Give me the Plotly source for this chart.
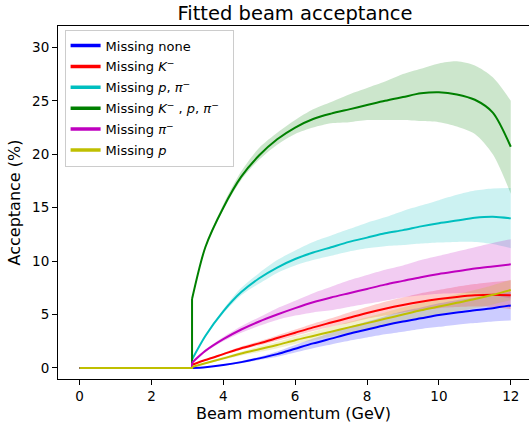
import plotly.graph_objects as go

# ---- data ----
momentum = [3.13, 3.5, 4.0, 4.5, 5.0, 5.5, 6.0, 6.5, 7.0, 7.5, 8.0, 8.5,
            9.0, 9.5, 10.0, 10.5, 11.0, 11.5, 12.0]
below_threshold = [0.0, 3.13]
below_values = [0.0, 0.0]

none_mid = [0.0, 0.08, 0.28, 0.55, 0.9, 1.3, 1.8, 2.3, 2.75, 3.2, 3.6, 4.0,
            4.35, 4.65, 4.95, 5.2, 5.4, 5.6, 5.85]
none_lo = [0.0, 0.06, 0.22, 0.45, 0.75, 1.05, 1.45, 1.85, 2.2, 2.55, 2.85, 3.15,
           3.4, 3.65, 3.85, 4.05, 4.2, 4.35, 4.45]
none_hi = [0.0, 0.1, 0.33, 0.65, 1.05, 1.55, 2.15, 2.75, 3.3, 3.85, 4.35, 4.85,
           5.3, 5.65, 6.05, 6.35, 6.6, 6.85, 7.1]

k_mid = [0.3, 0.75, 1.3, 1.85, 2.3, 2.8, 3.3, 3.8, 4.25, 4.7, 5.15, 5.55,
         5.9, 6.2, 6.45, 6.65, 6.8, 6.85, 6.8]
k_lo = [0.3, 0.7, 1.2, 1.7, 2.1, 2.55, 3.0, 3.45, 3.85, 4.2, 4.6, 4.9,
        5.2, 5.4, 5.6, 5.7, 5.75, 5.7, 5.5]
k_hi = [0.3, 0.8, 1.4, 2.0, 2.5, 3.05, 3.6, 4.15, 4.65, 5.2, 5.7, 6.2,
        6.6, 7.0, 7.3, 7.6, 7.85, 8.05, 8.2]

ppi_mid = [0.8, 3.0, 5.3, 7.1, 8.4, 9.4, 10.2, 10.8, 11.3, 11.8, 12.2, 12.6,
           12.9, 13.25, 13.55, 13.8, 14.05, 14.15, 14.0]
ppi_lo = [0.8, 2.9, 5.1, 6.8, 7.9, 8.9, 9.6, 10.1, 10.5, 10.9, 11.2, 11.4,
          11.5, 11.65, 11.75, 11.8, 11.8, 11.6, 11.2]
ppi_hi = [0.8, 3.1, 5.5, 7.5, 8.9, 10.1, 11.0, 11.8, 12.4, 13.0, 13.6, 14.1,
          14.7, 15.2, 15.7, 16.2, 16.6, 16.8, 16.85]

kppi_mid = [6.45, 11.3, 15.0, 17.9, 19.9, 21.4, 22.5, 23.3, 23.8, 24.2, 24.6, 25.0,
            25.35, 25.7, 25.8, 25.6, 25.1, 23.9, 20.7]
kppi_lo = [6.45, 11.2, 14.8, 17.6, 19.5, 20.9, 21.9, 22.5, 22.9, 23.0, 23.2, 23.2,
           23.2, 23.1, 23.0, 22.6, 21.9, 20.0, 16.3]
kppi_hi = [6.45, 11.4, 15.3, 18.4, 20.6, 22.0, 23.2, 24.2, 24.9, 25.6, 26.2, 26.8,
           27.5, 28.0, 28.5, 28.7, 28.3, 27.2, 25.0]

pi_mid = [0.5, 1.6, 2.7, 3.6, 4.35, 5.0, 5.6, 6.15, 6.6, 7.0, 7.4, 7.8,
          8.15, 8.5, 8.8, 9.05, 9.3, 9.5, 9.7]
pi_lo = [0.5, 1.5, 2.5, 3.3, 3.95, 4.5, 4.9, 5.2, 5.4, 5.7, 6.0, 6.3,
         6.6, 6.8, 6.95, 7.0, 7.0, 6.8, 6.5]
pi_hi = [0.5, 1.7, 2.9, 3.9, 4.75, 5.6, 6.3, 7.0, 7.6, 8.2, 8.7, 9.2,
         9.6, 10.1, 10.5, 10.9, 11.3, 11.7, 12.05]

p_mid = [0.1, 0.45, 0.9, 1.35, 1.75, 2.15, 2.6, 3.0, 3.4, 3.8, 4.2, 4.6,
         5.0, 5.4, 5.75, 6.1, 6.45, 6.85, 7.3]
p_lo = [0.1, 0.4, 0.78, 1.17, 1.5, 1.85, 2.25, 2.6, 2.95, 3.3, 3.65, 4.0,
        4.35, 4.7, 5.0, 5.3, 5.6, 5.95, 6.35]
p_hi = [0.1, 0.5, 1.02, 1.53, 2.0, 2.45, 2.95, 3.4, 3.85, 4.3, 4.75, 5.2,
        5.65, 6.1, 6.5, 6.9, 7.3, 7.75, 8.25]

labels = [
    "Missing none",
    "Missing <i>K</i><sup>−</sup>",
    "Missing <i>p</i>, <i>π</i><sup>−</sup>",
    "Missing <i>K</i><sup>−</sup>\u00a0, <i>p</i>, <i>π</i><sup>−</sup>\u00a0\u00a0",
    "Missing <i>π</i><sup>−</sup>",
    "Missing <i>p</i>",
]
line_colors = ["#0000ff", "#ff0000", "#00bfbf", "#008000", "#bf00bf", "#bfbf00"]
fill_colors = ["rgba(0,0,255,0.2)", "rgba(255,0,0,0.2)", "rgba(0,191,191,0.2)",
               "rgba(0,128,0,0.2)", "rgba(191,0,191,0.2)", "rgba(191,191,0,0.2)"]
mids = [none_mid, k_mid, ppi_mid, kppi_mid, pi_mid, p_mid]
los = [none_lo, k_lo, ppi_lo, kppi_lo, pi_lo, p_lo]
his = [none_hi, k_hi, ppi_hi, kppi_hi, pi_hi, p_hi]

FONT = "DejaVu Sans"
SMOOTH = 0.8
fig = go.Figure()

# uncertainty bands (lower edge, then upper edge filled down to it)
for lo, hi, fc in zip(los, his, fill_colors):
    fig.add_trace(go.Scatter(
        x=momentum, y=lo, mode="lines",
        line=dict(width=0, shape="spline", smoothing=SMOOTH),
        hoverinfo="skip", showlegend=False))
    fig.add_trace(go.Scatter(
        x=momentum, y=hi, mode="lines", fill="tonexty", fillcolor=fc,
        line=dict(width=0, shape="spline", smoothing=SMOOTH),
        hoverinfo="skip", showlegend=False))

# central curves: flat part below threshold, then the fitted curve
for mid, lc in zip(mids, line_colors):
    fig.add_trace(go.Scatter(
        x=below_threshold + momentum[:1], y=below_values + mid[:1],
        mode="lines", line=dict(color=lc, width=2), showlegend=False))
    fig.add_trace(go.Scatter(
        x=momentum, y=mid, mode="lines",
        line=dict(color=lc, width=2, shape="spline", smoothing=SMOOTH),
        showlegend=False))

# legend handles
for i, (lab, lc) in enumerate(zip(labels, line_colors)):
    fig.add_trace(go.Scatter(
        x=[None], y=[None], mode="lines", name=lab,
        line=dict(color=lc, width=3.5), legendgroup=str(i)))

fig.update_layout(
    width=529, height=429,
    margin=dict(l=58, r=0, t=25.5, b=50),
    paper_bgcolor="white", plot_bgcolor="white",
    font=dict(family=FONT, size=13.5, color="#000000"),
    title=dict(text="Fitted beam acceptance", font=dict(size=19.5, family=FONT),
               x=295 / 529, xref="container", xanchor="center",
               y=1 - 13 / 429, yref="container", yanchor="middle"),
    legend=dict(x=0.014, y=0.99, xanchor="left", yanchor="top",
                bgcolor="rgba(255,255,255,0.8)", bordercolor="#cccccc",
                borderwidth=1, font=dict(size=13, family=FONT),
                tracegroupgap=1, itemwidth=30),
    showlegend=True,
)
fig.update_xaxes(
    range=[-0.6, 12.507], tickvals=[0, 2, 4, 6, 8, 10, 12],
    showline=True, linecolor="black", linewidth=1, mirror=True,
    ticks="outside", ticklen=5, tickwidth=1, tickcolor="black",
    showgrid=False, zeroline=False,
    title=dict(text="Beam momentum (GeV)", font=dict(size=16), standoff=4),
)
fig.update_yaxes(
    range=[-1.03, 32.0], tickvals=[0, 5, 10, 15, 20, 25, 30],
    showline=True, linecolor="black", linewidth=1, mirror=False,
    ticks="outside", ticklen=5, tickwidth=1, tickcolor="black",
    showgrid=False, zeroline=False,
    title=dict(text="Acceptance (%)", font=dict(size=16), standoff=7),
)

fig.write_html("out.html")
